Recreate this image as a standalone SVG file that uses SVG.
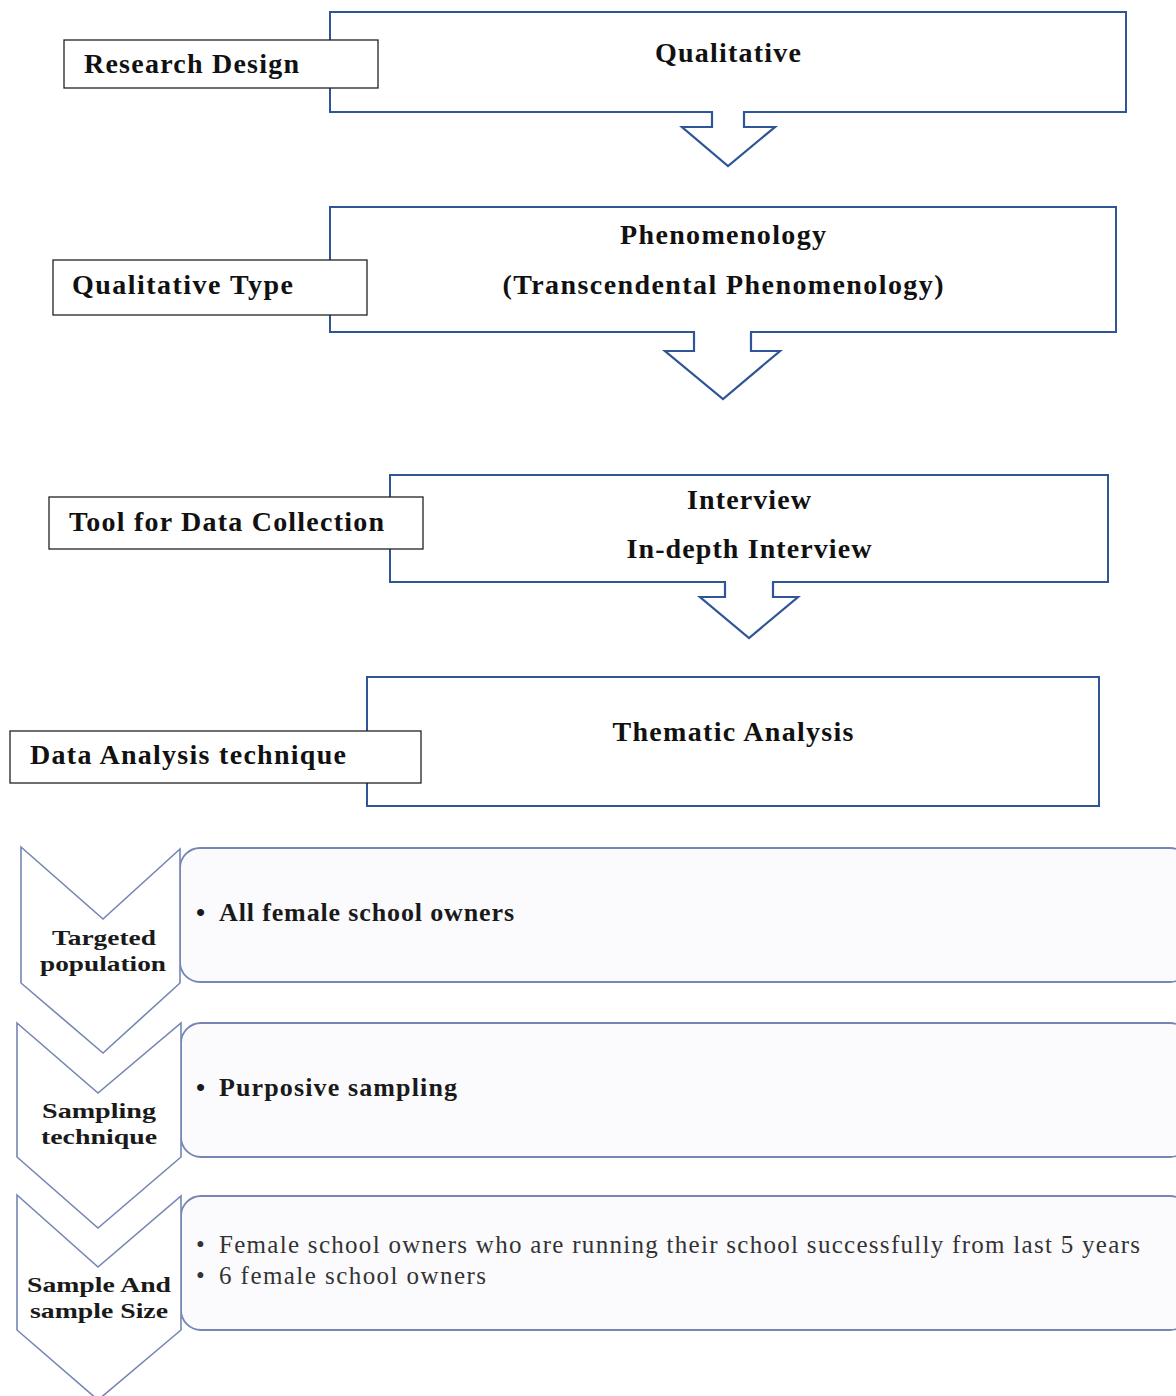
<svg xmlns="http://www.w3.org/2000/svg" width="1176" height="1396" viewBox="0 0 1176 1396">
<style>
.bbox{fill:#fff;stroke:#2f5597;stroke-width:2}
.lbl{fill:#fff;stroke:#222;stroke-width:1.3}
.t{font-family:"Liberation Serif","Times New Roman",serif;font-weight:bold;font-size:28px;fill:#111}
.tc{text-anchor:middle}
.arr{fill:none;stroke:#2f5597;stroke-width:2.2;stroke-linejoin:miter}
.cover{fill:#fff;stroke:none}
.chev{fill:#fff;stroke:#7686b4;stroke-width:1.6}
.rbox{fill:#fbfbfe;stroke:#7686b4;stroke-width:1.8}
.b{font-family:"Liberation Serif","Times New Roman",serif;font-weight:bold;font-size:22px;fill:#1a1a1a}
.bb{font-size:26px}
.n{font-family:"Liberation Serif","Times New Roman",serif;font-size:25px;fill:#333}
</style>
<rect width="1176" height="1396" fill="#fff"/>

<g id="qualitative">
<rect class="bbox" x="330" y="12" width="796" height="100"/>
<text class="t tc" x="728" y="62" textLength="146">Qualitative</text>
</g>
<g id="research-design">
<rect class="lbl" x="64" y="40" width="314" height="48"/>
<text class="t" x="84" y="73" textLength="215">Research Design</text>
</g>

<g id="phenomenology">
<rect class="bbox" x="330" y="207" width="786" height="125"/>
<text class="t tc" x="723" y="244" textLength="206">Phenomenology</text>
<text class="t tc" x="723" y="294" textLength="441">(Transcendental Phenomenology)</text>
</g>
<g id="qualitative-type">
<rect class="lbl" x="53" y="260" width="314" height="55"/>
<text class="t" x="72" y="294" textLength="221">Qualitative Type</text>
</g>

<g id="interview">
<rect class="bbox" x="390" y="475" width="718" height="107"/>
<text class="t tc" x="749" y="509" textLength="124">Interview</text>
<text class="t tc" x="749" y="558" textLength="245">In-depth Interview</text>
</g>
<g id="tool-data-collection">
<rect class="lbl" x="49" y="497" width="374" height="52"/>
<text class="t" x="69" y="531" textLength="315">Tool for Data Collection</text>
</g>

<g id="thematic-analysis">
<rect class="bbox" x="367" y="677" width="732" height="129"/>
<text class="t tc" x="733" y="741" textLength="241">Thematic Analysis</text>
</g>
<g id="data-analysis-technique">
<rect class="lbl" x="10" y="731" width="411" height="52"/>
<text class="t" x="30" y="764" textLength="316">Data Analysis technique</text>
</g>

<g id="connectors">
<polygon class="cover" points="713,108 743,108 743,127 775,127 728,166 682,127 713,127"/>
<polyline class="arr" points="712,112 712,127 682,127 728,166 775,127 744,127 744,112"/>
<polygon class="cover" points="695,328 750,328 750,351 780,351 723,399 665,351 695,351"/>
<polyline class="arr" points="694,332 694,351 665,351 723,399 780,351 751,351 751,332"/>
<polygon class="cover" points="726,578 772,578 772,597 798,597 749,638 700,597 726,597"/>
<polyline class="arr" points="725,582 725,597 700,597 749,638 798,597 773,597 773,582"/>
</g>

<g id="targeted-population">
<rect class="rbox" x="180" y="848" width="1010" height="134" rx="20"/>
<polygon class="chev" points="21,847 103,919 180,849 180,983 103,1053 21,983"/>
<text class="b tc" x="104" y="945" textLength="104" lengthAdjust="spacingAndGlyphs">Targeted</text>
<text class="b tc" x="103" y="971" textLength="126" lengthAdjust="spacingAndGlyphs">population</text>
<text class="b bb" x="196" y="921">•</text>
<text class="b bb" x="219" y="921" textLength="295">All female school owners</text>
</g>

<g id="sampling-technique">
<rect class="rbox" x="181" y="1023" width="1009" height="134" rx="20"/>
<polygon class="chev" points="17,1023 98,1093 181,1023 181,1157 98,1228 17,1157"/>
<text class="b tc" x="99" y="1118" textLength="114" lengthAdjust="spacingAndGlyphs">Sampling</text>
<text class="b tc" x="99" y="1144" textLength="116" lengthAdjust="spacingAndGlyphs">technique</text>
<text class="b bb" x="196" y="1096">•</text>
<text class="b bb" x="219" y="1096" textLength="238">Purposive sampling</text>
</g>

<g id="sample-size">
<rect class="rbox" x="181" y="1196" width="1009" height="134" rx="20"/>
<polygon class="chev" points="17,1195 98,1267 181,1196 181,1330 98,1400 17,1330"/>
<text class="b tc" x="99" y="1292" textLength="144" lengthAdjust="spacingAndGlyphs">Sample And</text>
<text class="b tc" x="99" y="1318" textLength="138" lengthAdjust="spacingAndGlyphs">sample Size</text>
<text class="n" x="196" y="1253">•</text>
<text class="n" x="219" y="1253" textLength="921">Female school owners who are running their school successfully from last 5 years</text>
<text class="n" x="196" y="1284">•</text>
<text class="n" x="219" y="1284" textLength="267">6 female school owners</text>
</g>
</svg>
